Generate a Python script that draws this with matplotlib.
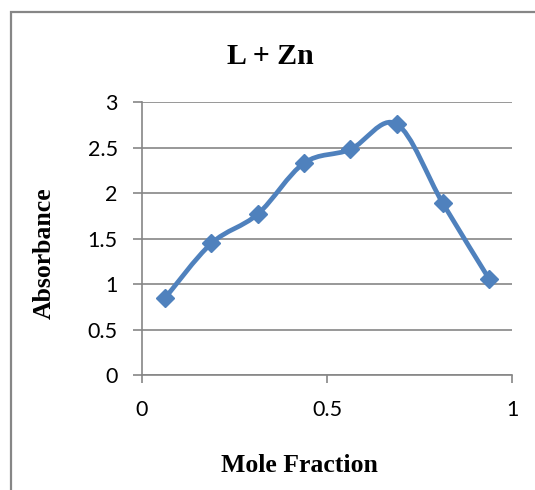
import matplotlib
matplotlib.use("Agg")
import matplotlib.pyplot as plt
from matplotlib.path import Path
from matplotlib.patches import PathPatch, Rectangle
import numpy as np

# job's plot data (Job's method, L + Zn)
mole_fraction = [0.0625, 0.1875, 0.3125, 0.4375, 0.5625, 0.6875, 0.8125, 0.9375]
absorbance = [0.85, 1.45, 1.77, 2.33, 2.48, 2.76, 1.89, 1.06]
x_ticks = [0, 0.5, 1]
y_ticks = [0, 0.5, 1, 1.5, 2, 2.5, 3]

blue = '#4f81bd'
grid_gray = '#868686'


def smooth_path(xs, ys):
	# excel-like smoothed line: cubic bezier segments with catmull-rom control points
	pts = np.column_stack([xs, ys])
	verts = [pts[0]]
	codes = [Path.MOVETO]
	n = len(pts)
	for i in range(n - 1):
		p0 = pts[max(i - 1, 0)]
		p1 = pts[i]
		p2 = pts[i + 1]
		p3 = pts[min(i + 2, n - 1)]
		c1 = p1 + (p2 - p0) / 6.0
		c2 = p2 - (p3 - p1) / 6.0
		verts += [c1, c2, p2]
		codes += [Path.CURVE4] * 3
	return Path(verts, codes)


fig = plt.figure(figsize=(5.35, 4.9), dpi=100)
ax = fig.add_axes([0.2654, 0.2337, 0.692, 0.558])

# outer chart frame (only left and top visible in the crop)
fig.patches.append(Rectangle((11 / 535, -0.2), 1.2, 1.2 - 12 / 490,
	transform=fig.transFigure, fill=False, edgecolor=grid_gray, lw=1.6))

ax.add_patch(PathPatch(smooth_path(mole_fraction, absorbance), fill=False,
	edgecolor=blue, lw=3.4, capstyle='round', joinstyle='round', zorder=3))
ax.plot(mole_fraction, absorbance, linestyle='none', marker='D', markersize=9.5,
	color=blue, markeredgecolor=blue, zorder=4)

ax.set_xlim(0, 1)
ax.set_ylim(0, 3)
ax.set_xticks(x_ticks)
ax.set_xticklabels(['0', '0.5', '1'])
ax.set_yticks(y_ticks)
ax.set_yticklabels(['0', '0.5', '1', '1.5', '2', '2.5', '3'])

ax.yaxis.grid(True, color=grid_gray, lw=1.2)
ax.set_axisbelow(True)
for s in ['top', 'right']:
	ax.spines[s].set_visible(False)
for s in ['left', 'bottom']:
	ax.spines[s].set_color(grid_gray)
	ax.spines[s].set_linewidth(1.2)

ax.tick_params(axis='both', direction='out', color=grid_gray, width=1.2,
	labelsize=15.5, labelcolor='black')
ax.tick_params(axis='y', length=6.5, pad=11)
ax.tick_params(axis='x', length=6, pad=12)
for lab in ax.get_xticklabels() + ax.get_yticklabels():
	lab.set_fontfamily('Lato')

fig.text(270 / 535, 1 - 56 / 490, 'L + Zn', ha='center', va='center',
	fontsize=21.5, fontweight='bold', family='Liberation Serif')
fig.text(299 / 535, 1 - 465 / 490, 'Mole Fraction', ha='center', va='center',
	fontsize=18.5, fontweight='bold', family='Liberation Serif')
fig.text(44 / 535, 1 - 253 / 490, 'Absorbance', ha='center', va='center',
	rotation=90, fontsize=18.5, fontweight='bold', family='Liberation Serif')

plt.savefig('out.png', dpi=100)
